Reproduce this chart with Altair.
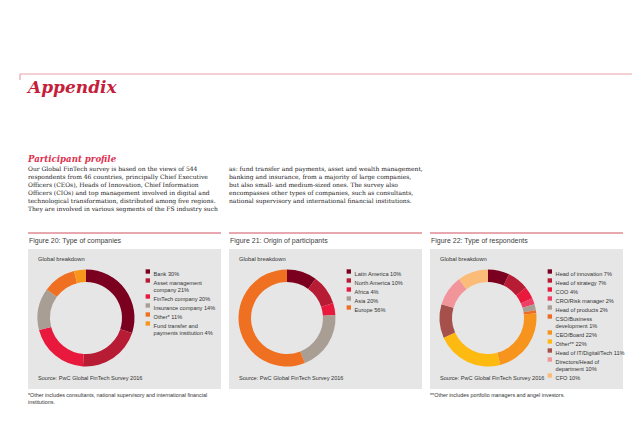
import altair as alt
import pandas as pd

# ---------------- data ----------------
fig20_labels = ["Bank 30%", "Asset management|company 21%", "FinTech company 20%",
                "Insurance company 14%", "Other* 11%", "Fund transfer and|payments institution 4%"]
fig20_values = [30, 21, 20, 14, 11, 4]
fig20_colors = ["#7b0020", "#b81c35", "#e8193c", "#a99e94", "#f07021", "#f7951d"]

fig21_labels = ["Latin America 10%", "North America 10%", "Africa 4%", "Asia 20%", "Europe 56%"]
fig21_values = [10, 10, 4, 20, 56]
fig21_colors = ["#7b0020", "#b81c35", "#e8193c", "#a99e94", "#f07021"]

fig22_labels = ["Head of innovation 7%", "Head of strategy 7%", "COO 4%", "CRO/Risk manager 2%",
                "Head of products 2%", "CSO/Business|development 1%", "CEO/Board 22%", "Other** 22%",
                "Head of IT/Digital/Tech 11%", "Directors/Head of|department 10%", "CFO 10%"]
fig22_values = [7, 7, 4, 2, 2, 1, 22, 22, 11, 10, 10]
fig22_colors = ["#7b0020", "#b81c35", "#e8193c", "#ee3f66", "#a99e94", "#ee6b26",
                "#f7941e", "#ffba11", "#a6504b", "#f2959b", "#fbbb79"]

fig_titles = ["Figure 20: Type of companies", "Figure 21: Origin of participants",
              "Figure 22: Type of respondents"]
footnotes = ["*Other includes consultants, national supervisory and international financial\ninstitutions.",
             "",
             "**Other includes portfolio managers and angel investors."]

body_col1 = ("Our Global FinTech survey is based on the views of 544\n"
             "respondents from 46 countries, principally Chief Executive\n"
             "Officers (CEOs), Heads of Innovation, Chief Information\n"
             "Officers (CIOs) and top management involved in digital and\n"
             "technological transformation, distributed among five regions.\n"
             "They are involved in various segments of the FS industry such")
body_col2 = ("as: fund transfer and payments, asset and wealth management,\n"
             "banking and insurance, from a majority of large companies,\n"
             "but also small- and medium-sized ones. The survey also\n"
             "encompasses other types of companies, such as consultants,\n"
             "national supervisory and international financial institutions.")

SANS = "Liberation Sans"
SERIF = "DejaVu Serif"
W, H = 624, 408

one = alt.InlineData(values=[{}])


def txt(text, x, y, size, font=SANS, color="#333333", **kw):
    return alt.Chart(alt.InlineData(values=[{"t": text}])).mark_text(
        font=font, fontSize=size, color=color, align="left", baseline="middle",
        lineBreak="\n", **kw
    ).encode(x=alt.value(x), y=alt.value(y), text="t:N")


def rect(x, x2, y, y2, color):
    return alt.Chart(one).mark_rect(color=color).encode(
        x=alt.value(x), x2=alt.value(x2), y=alt.value(y), y2=alt.value(y2))


def rule(x, x2, y, y2, color, width=1):
    return alt.Chart(one).mark_rule(color=color, strokeWidth=width).encode(
        x=alt.value(x), x2=alt.value(x2), y=alt.value(y), y2=alt.value(y2))


def donut(labels, values, colors, cx, cy, lx, ly):
    df = pd.DataFrame({"label": labels, "value": values, "i": list(range(len(labels)))})
    return alt.Chart(df).mark_arc(innerRadius=36, outerRadius=48.5).encode(
        theta=alt.Theta("value:Q", stack=True),
        order=alt.Order("i:Q"),
        x=alt.value(cx), y=alt.value(cy),
        color=alt.Color("label:N",
                        scale=alt.Scale(domain=labels, range=colors),
                        legend=alt.Legend(
                            title=None, orient="none", legendX=lx, legendY=ly,
                            symbolType="square", symbolSize=19, symbolStrokeWidth=0,
                            labelFont=SANS, labelFontSize=5.6, labelColor="#333333",
                            labelExpr="split(datum.label, '|')",
                            labelOffset=3, rowPadding=-0.6, padding=0,
                            labelBaseline="top", labelLimit=200,
                        )),
    )


layers = []
# header
layers.append(rule(12, W, 66, 66, "#e9a3ab", 1.2))
layers.append(rule(12, 12, 66, 72, "#e9a3ab", 1.2))
layers.append(txt("Appendix", 20, 80, 17, font=SERIF, color="#c41e3a",
                  fontStyle="italic", fontWeight="bold"))
layers.append(txt("Participant profile", 20, 151, 8.6, font=SERIF, color="#e0304e",
                  fontStyle="italic", fontWeight="bold"))
layers.append(txt(body_col1, 20, 161, 6.0, font=SERIF, color="#222222", lineHeight=8))
layers.append(txt(body_col2, 221, 161, 6.0, font=SERIF, color="#222222", lineHeight=8))

panel_x = [20, 221, 422]
pw = 193
datasets = [(fig20_labels, fig20_values, fig20_colors),
            (fig21_labels, fig21_values, fig21_colors),
            (fig22_labels, fig22_values, fig22_colors)]
donuts = []
for k, x0 in enumerate(panel_x):
    layers.append(rule(x0, x0 + pw, 225, 225, "#d0505e", 1))
    layers.append(txt(fig_titles[k], x0 + 1, 233, 7, color="#404040"))
    layers.append(rect(x0, x0 + pw, 241, 381, "#e6e6e6"))
    layers.append(txt("Global breakdown", x0 + 10, 251, 5.8))
    layers.append(txt("Source: PwC Global FinTech Survey 2016", x0 + 10, 369.5, 5.6))
    if footnotes[k]:
        layers.append(txt(footnotes[k], x0, 387, 5.4, color="#333333", lineHeight=7))
    lab, val, col = datasets[k]
    donuts.append(donut(lab, val, col, x0 + 58, 310, x0 + 117, 260.7))

chart = alt.layer(*layers, *donuts).resolve_scale(
    color="independent", theta="independent"
).resolve_legend(color="independent").properties(
    width=W, height=H, padding=0, autosize=alt.AutoSizeParams(type="none")
).configure_view(stroke=None)

chart.save("out.html", embed_options={"renderer": "svg", "actions": False})
